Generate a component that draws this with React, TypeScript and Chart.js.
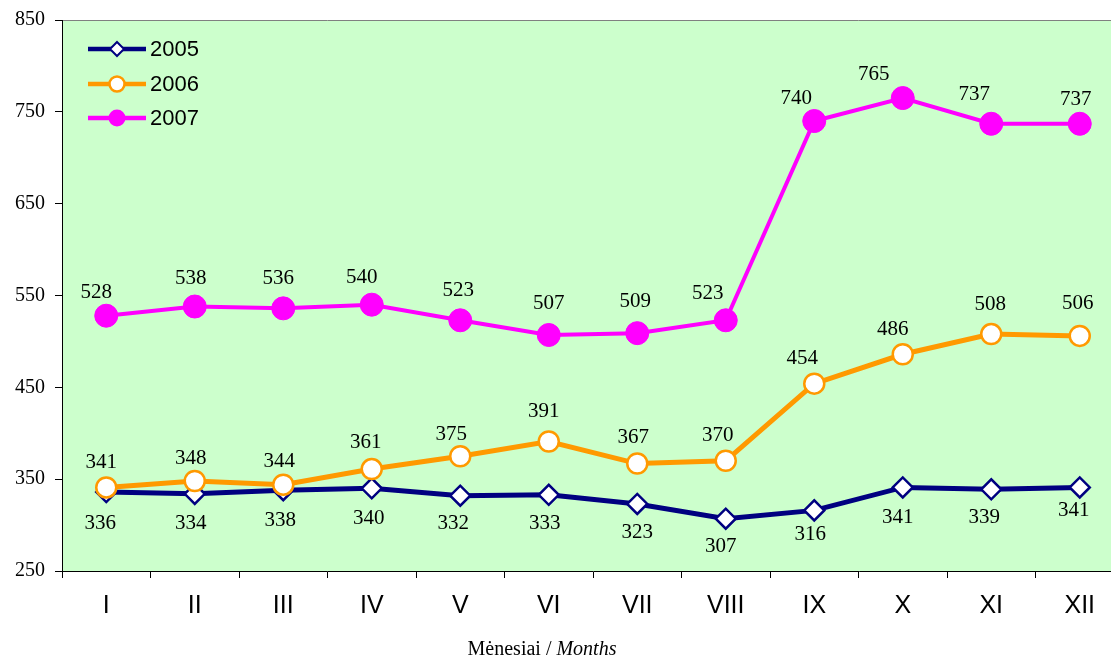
import { useEffect, useRef } from 'react';
import { Chart, registerables } from 'chart.js';

Chart.register(...registerables);

const months = ['I', 'II', 'III', 'IV', 'V', 'VI', 'VII', 'VIII', 'IX', 'X', 'XI', 'XII'];
const seriesNames = ['2005', '2006', '2007'];
const values2005 = [336, 334, 338, 340, 332, 333, 323, 307, 316, 341, 339, 341];
const values2006 = [341, 348, 344, 361, 375, 391, 367, 370, 454, 486, 508, 506];
const values2007 = [528, 538, 536, 540, 523, 507, 509, 523, 740, 765, 737, 737];
const yMin = 250;
const yMax = 850;
const yStep = 100;
const axisTitlePlain = 'Mėnesiai / ';
const axisTitleItalic = 'Months';

// value-label nudges (pixels, relative to each point) — layout only
const labelDx = [
  [-6, -4, -3, -3, -7, -4, 0, -5, -4, -5, -7, -6],
  [-5, -4, -4, -6, -9, -5, -4, -8, -12, -10, -1, -2],
  [-10, -4, -5, -10, -2, 0, -2, -18, -18, -29, -17, -4],
];
const labelDy = [
  [31, 30, 30, 30, 28, 29, 29, 28, 24, 30, 28, 23],
  [-25, -23, -23, -27, -22, -30, -26, -25, -25, -25, -30, -32],
  [-23, -28, -30, -27, -30, -32, -32, -27, -23, -24, -29, -24],
];

const NAVY = '#000080';
const ORANGE = '#FF9900';
const MAGENTA = '#FF00FF';
const SERIF = '"Liberation Serif", "Times New Roman", serif';
const SANS = '"Liberation Sans", Arial, sans-serif';

const CANVAS_W = 1124;
const CANVAS_H = 657;

export default function App() {
  const ref = useRef<HTMLCanvasElement>(null);

  useEffect(() => {
    const canvas = ref.current;
    if (!canvas) return;

    const bgPlugin = {
      id: 'bgPlugin',
      beforeDraw(chart: any) {
        const { ctx, chartArea: a } = chart;
        ctx.save();
        ctx.fillStyle = '#CCFFCC';
        ctx.fillRect(a.left, a.top, a.right - a.left, a.bottom - a.top);
        ctx.strokeStyle = '#808080';
        ctx.lineWidth = 1;
        ctx.beginPath();
        ctx.moveTo(a.left, a.top + 0.5);
        ctx.lineTo(a.right, a.top + 0.5);
        ctx.stroke();
        ctx.restore();
      },
    };

    const labelPlugin = {
      id: 'labelPlugin',
      afterDatasetsDraw(chart: any) {
        const { ctx } = chart;
        ctx.save();
        ctx.font = `21px ${SERIF}`;
        ctx.fillStyle = '#000';
        ctx.textAlign = 'center';
        ctx.textBaseline = 'middle';
        chart.data.datasets.forEach((ds: any, di: number) => {
          const meta = chart.getDatasetMeta(di);
          meta.data.forEach((pt: any, i: number) => {
            ctx.fillText(String(ds.data[i]), pt.x + labelDx[di][i], pt.y + labelDy[di][i]);
          });
        });
        ctx.restore();
      },
    };

    const legendPlugin = {
      id: 'legendPlugin',
      afterDraw(chart: any) {
        const { ctx } = chart;
        const rows = [49, 84, 118];
        const colors = [NAVY, ORANGE, MAGENTA];
        ctx.save();
        seriesNames.forEach((name, i) => {
          const y = rows[i];
          ctx.strokeStyle = colors[i];
          ctx.lineWidth = 4.5;
          ctx.beginPath();
          ctx.moveTo(88, y);
          ctx.lineTo(146, y);
          ctx.stroke();
          const cx = 117;
          if (i === 0) {
            ctx.beginPath();
            ctx.moveTo(cx, y - 7);
            ctx.lineTo(cx + 7, y);
            ctx.lineTo(cx, y + 7);
            ctx.lineTo(cx - 7, y);
            ctx.closePath();
            ctx.fillStyle = '#fff';
            ctx.fill();
            ctx.lineWidth = 2;
            ctx.strokeStyle = NAVY;
            ctx.stroke();
          } else if (i === 1) {
            ctx.beginPath();
            ctx.arc(cx, y, 7.5, 0, Math.PI * 2);
            ctx.fillStyle = '#fff';
            ctx.fill();
            ctx.lineWidth = 2.5;
            ctx.strokeStyle = ORANGE;
            ctx.stroke();
          } else {
            ctx.beginPath();
            ctx.arc(cx, y, 8.5, 0, Math.PI * 2);
            ctx.fillStyle = MAGENTA;
            ctx.fill();
          }
          ctx.fillStyle = '#000';
          ctx.font = `22px ${SANS}`;
          ctx.textAlign = 'left';
          ctx.textBaseline = 'middle';
          ctx.fillText(name, 150, y + 1);
        });
        ctx.restore();
      },
    };

    const titlePlugin = {
      id: 'titlePlugin',
      afterDraw(chart: any) {
        const { ctx } = chart;
        ctx.save();
        ctx.fillStyle = '#000';
        ctx.textBaseline = 'alphabetic';
        ctx.textAlign = 'left';
        const plainFont = `20px ${SERIF}`;
        const italicFont = `italic 20px ${SERIF}`;
        ctx.font = plainFont;
        const w1 = ctx.measureText(axisTitlePlain).width;
        ctx.font = italicFont;
        const w2 = ctx.measureText(axisTitleItalic).width;
        const x0 = 542 - (w1 + w2) / 2;
        const yb = 655;
        ctx.font = plainFont;
        ctx.fillText(axisTitlePlain, x0, yb);
        ctx.font = italicFont;
        ctx.fillText(axisTitleItalic, x0 + w1, yb);
        ctx.restore();
      },
    };

    const chart = new Chart(canvas, {
      type: 'line',
      data: {
        labels: months,
        datasets: [
          {
            label: seriesNames[0],
            data: values2005,
            borderColor: NAVY,
            borderWidth: 5,
            pointStyle: 'rectRot',
            pointRadius: 10,
            pointBorderWidth: 2.5,
            pointBackgroundColor: '#FFFFFF',
            pointBorderColor: NAVY,
            tension: 0,
            order: 3,
          },
          {
            label: seriesNames[1],
            data: values2006,
            borderColor: ORANGE,
            borderWidth: 5,
            pointStyle: 'circle',
            pointRadius: 10,
            pointBorderWidth: 2.5,
            pointBackgroundColor: '#FFFFFF',
            pointBorderColor: ORANGE,
            tension: 0,
            order: 2,
          },
          {
            label: seriesNames[2],
            data: values2007,
            borderColor: MAGENTA,
            borderWidth: 4,
            pointStyle: 'circle',
            pointRadius: 11.5,
            pointBorderWidth: 1,
            pointBackgroundColor: MAGENTA,
            pointBorderColor: MAGENTA,
            tension: 0,
            order: 1,
          },
        ],
      },
      options: {
        animation: false,
        responsive: false,
        events: [],
        layout: { autoPadding: false, padding: { top: 20, left: 0, right: 0, bottom: 0 } },
        plugins: {
          legend: { display: false },
          tooltip: { enabled: false },
          title: { display: false },
        },
        scales: {
          x: {
            offset: true,
            grid: {
              offset: true,
              drawOnChartArea: false,
              tickLength: 7,
              color: '#000',
            },
            border: { display: true, color: '#000', width: 1 },
            ticks: {
              color: '#000',
              font: { family: SANS, size: 25 },
              padding: 13,
              maxRotation: 0,
              autoSkip: false,
            },
            afterFit(scale: any) {
              scale.height = 86;
              scale.paddingLeft = 0;
              scale.paddingRight = 0;
            },
          },
          y: {
            min: yMin,
            max: yMax,
            ticks: {
              stepSize: yStep,
              color: '#000',
              font: { family: SERIF, size: 20 },
              padding: 10,
            },
            grid: {
              drawOnChartArea: false,
              tickLength: 7,
              color: '#000',
            },
            border: { display: true, color: '#000', width: 1 },
            afterFit(scale: any) {
              scale.width = 62;
              scale.paddingTop = 0;
              scale.paddingBottom = 0;
            },
          },
        },
      },
      plugins: [bgPlugin, labelPlugin, legendPlugin, titlePlugin],
    });

    return () => chart.destroy();
  }, []);

  return (
    <div
      style={{
        position: 'fixed',
        left: 0,
        top: 0,
        width: 1111,
        height: 657,
        overflow: 'hidden',
        background: '#fff',
      }}
    >
      <div style={{ width: CANVAS_W, height: CANVAS_H }}>
        <canvas
          ref={ref}
          width={CANVAS_W}
          height={CANVAS_H}
          style={{ display: 'block', width: CANVAS_W, height: CANVAS_H, maxWidth: 'none' }}
        />
      </div>
    </div>
  );
}
